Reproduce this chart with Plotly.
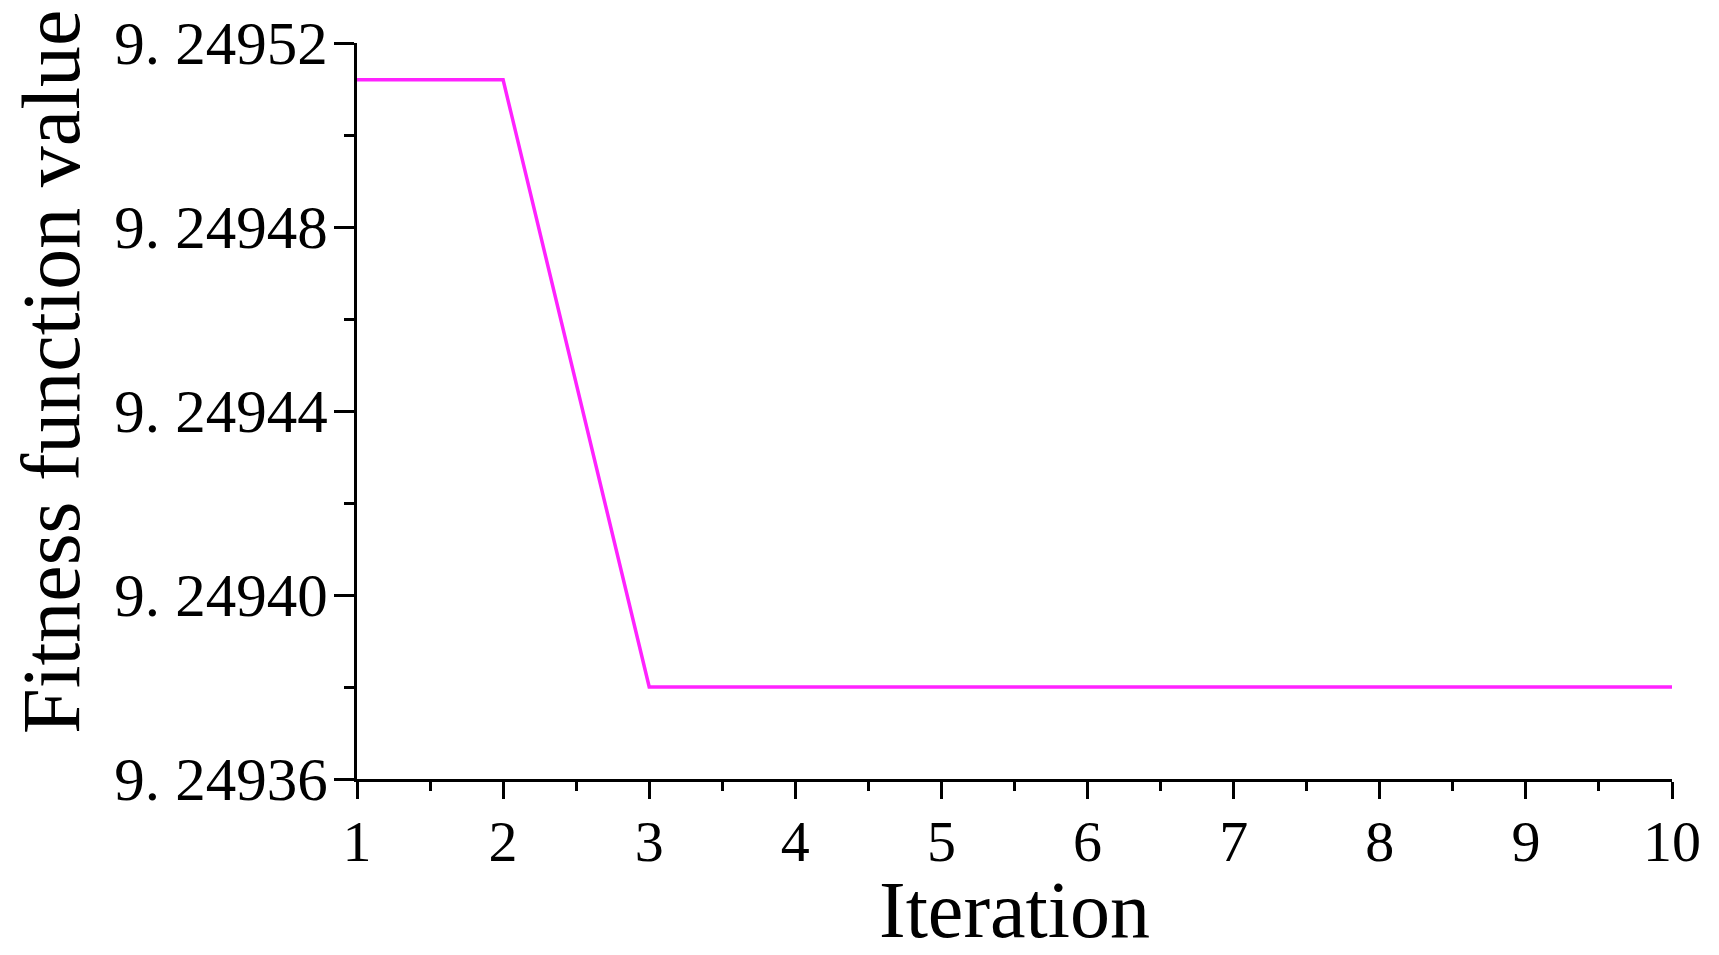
import plotly.graph_objects as go

iterations = [1, 2, 3, 4, 5, 6, 7, 8, 9, 10]
fitness = [9.249512, 9.249512, 9.24938, 9.24938, 9.24938, 9.24938, 9.24938, 9.24938, 9.24938, 9.24938]

y_tick_vals = [9.24936, 9.24940, 9.24944, 9.24948, 9.24952]
y_tick_text = ["9. 24936", "9. 24940", "9. 24944", "9. 24948", "9. 24952"]
x_tick_vals = [1, 2, 3, 4, 5, 6, 7, 8, 9, 10]

x_title = "Iteration"
y_title = "Fitness function value"

FONT = "Liberation Serif, Times New Roman, serif"

fig = go.Figure()
fig.add_trace(go.Scatter(
    x=iterations, y=fitness, mode="lines",
    line=dict(color="#ff22ff", width=3.5),
    showlegend=False, hoverinfo="skip",
))

fig.update_layout(
    width=1703, height=939,
    margin=dict(l=349, r=39, t=35, b=168),
    paper_bgcolor="white", plot_bgcolor="white",
    font=dict(family=FONT, color="black"),
    xaxis=dict(
        range=[1, 10], tickvals=x_tick_vals, ticks="outside", ticklen=17, tickwidth=3,
        tickcolor="black", showline=True, linecolor="black", linewidth=3,
        showgrid=False, zeroline=False, tickfont=dict(size=58, family=FONT, color="black"),
        ticklabelstandoff=-8, automargin=False,
        minor=dict(dtick=0.5, ticks="outside", ticklen=9, tickwidth=3, tickcolor="black", showgrid=False),
    ),
    yaxis=dict(
        range=[9.24936, 9.24952], tickvals=y_tick_vals, ticktext=y_tick_text, ticks="outside",
        ticklen=20, tickwidth=3, tickcolor="black", showline=True, linecolor="black", linewidth=3,
        showgrid=False, zeroline=False, tickfont=dict(size=61, family=FONT, color="black"),
        ticklabelstandoff=-6, automargin=False,
        minor=dict(dtick=0.00002, tick0=9.24936, ticks="outside", ticklen=10, tickwidth=3, tickcolor="black", showgrid=False),
    ),
    annotations=[
        dict(text=x_title, xref="paper", yref="paper", x=0.5, y=-0.178, xanchor="center", yanchor="middle",
             showarrow=False, font=dict(size=80, family=FONT, color="black")),
        dict(text=y_title, xref="paper", yref="paper", x=-0.232, y=0.553, xanchor="center", yanchor="middle",
             textangle=-90, showarrow=False, font=dict(size=82, family=FONT, color="black")),
    ],
)

fig.write_html("out.html")
